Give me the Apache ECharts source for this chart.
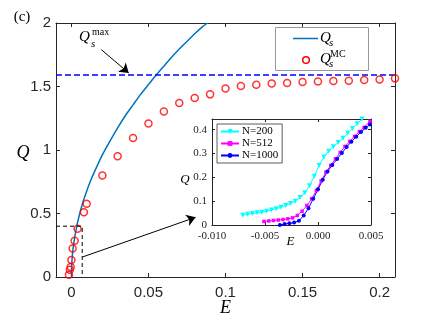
<!DOCTYPE html>
<html><head><meta charset="utf-8">
<script src="https://cdn.jsdelivr.net/npm/echarts@6/dist/echarts.min.js"></script>
<style>html,body{margin:0;padding:0;background:#fff}#c{width:436px;height:318px}</style>
</head><body><div id="c"></div>
<script>
// ---- main panel data ----
const qsE = [0, 0.0002, 0.0005, 0.001, 0.002, 0.0035, 0.005, 0.0075, 0.01, 0.0125, 0.015, 0.02, 0.025, 0.03, 0.035, 0.04, 0.045, 0.05, 0.055, 0.06, 0.065, 0.07, 0.075, 0.08, 0.085, 0.0884];
const qsQ = [0, 0.096, 0.152, 0.215, 0.303, 0.40, 0.48, 0.59, 0.68, 0.76, 0.83, 0.96, 1.07, 1.175, 1.27, 1.355, 1.44, 1.515, 1.59, 1.66, 1.73, 1.795, 1.855, 1.915, 1.97, 2.0];
const mcE = [-0.0016, -0.001, -0.0005, 0, 0.0008, 0.0021, 0.004, 0.0081, 0.0099, 0.0201, 0.03, 0.04, 0.05, 0.06, 0.07, 0.08, 0.09, 0.10, 0.11, 0.12, 0.13, 0.14, 0.15, 0.16, 0.17, 0.18, 0.19, 0.20, 0.21];
const mcQ = [0.018, 0.057, 0.079, 0.134, 0.225, 0.286, 0.380, 0.509, 0.577, 0.80, 0.950, 1.094, 1.209, 1.304, 1.370, 1.409, 1.438, 1.485, 1.504, 1.514, 1.524, 1.528, 1.535, 1.540, 1.543, 1.546, 1.551, 1.556, 1.564];
const qMax = 1.59;
const mainXTicks = [0, 0.05, 0.1, 0.15, 0.2];
const zoomBoxE = [-0.01, 0.007];
const zoomBoxQ = [0, 0.4];
const arrowToInset = [[0.0071, 0.157], [0.0806, 0.470]];
const arrowToMax = [[0.0194, 1.79], [0.0372, 1.607]];

// ---- inset data ----
const n200E = [-0.0071, -0.00665, -0.0062, -0.00575, -0.0053, -0.00485, -0.0044, -0.00395, -0.0035, -0.00305, -0.0026, -0.00215, -0.0017, -0.00125, -0.0008, -0.00035, 0.0001, 0.00055, 0.001, 0.00145, 0.0019, 0.00235, 0.0028, 0.00325, 0.0037, 0.00415];
const n200Q = [0.041, 0.045, 0.048, 0.051, 0.054, 0.058, 0.063, 0.068, 0.074, 0.082, 0.090, 0.100, 0.115, 0.135, 0.165, 0.205, 0.250, 0.285, 0.310, 0.328, 0.346, 0.364, 0.385, 0.405, 0.425, 0.445];
const n512E = [-0.0051, -0.00465, -0.0042, -0.00375, -0.0033, -0.00285, -0.0024, -0.00195, -0.0015, -0.00105, -0.0006, -0.00015, 0.0003, 0.00075, 0.0012, 0.00165, 0.0021, 0.00255, 0.003, 0.00345, 0.0039, 0.00435, 0.0049];
const n512Q = [0.015, 0.017, 0.019, 0.021, 0.023, 0.026, 0.030, 0.040, 0.058, 0.082, 0.110, 0.145, 0.185, 0.222, 0.250, 0.278, 0.305, 0.330, 0.351, 0.372, 0.392, 0.410, 0.435];
const n1000E = [-0.0036, -0.00315, -0.0027, -0.00225, -0.0018, -0.00135, -0.0009, -0.00045, 0.0, 0.00045, 0.0009, 0.00135, 0.0018, 0.00225, 0.0027, 0.00315, 0.0036, 0.00405, 0.0045, 0.0049];
const n1000Q = [0.0, 0.004, 0.007, 0.010, 0.018, 0.040, 0.070, 0.110, 0.150, 0.190, 0.225, 0.252, 0.277, 0.302, 0.327, 0.350, 0.370, 0.390, 0.408, 0.422];
const insetYTicks = [0, 0.1, 0.2, 0.3, 0.4];

const zip = (a, b) => a.map((v, i) => [v, b[i]]);
const AX = '#262626';
const SERIF = '"Liberation Serif","DejaVu Serif",serif';
const SANS = '"Liberation Sans",Arial,sans-serif';

const chart = echarts.init(document.getElementById('c'), null, {renderer: 'canvas'});

function axisCommon(extra) {
  return Object.assign({
    axisLine: {show: true, onZero: false, lineStyle: {color: AX, width: 1}},
    splitLine: {show: false}
  }, extra);
}

const option = {
  animation: false,
  backgroundColor: '#fff',
  grid: [
    {left: 56, top: 23, width: 339, height: 254},
    {left: 212, top: 119, width: 159, height: 106, show: true, backgroundColor: '#fff', borderWidth: 0, z: 5}
  ],
  xAxis: [
    axisCommon({type: 'value', gridIndex: 0, min: -0.01, max: 0.21, position: 'bottom',
      axisTick: {inside: true, length: 4, lineStyle: {color: AX}, customValues: mainXTicks},
      axisLabel: {customValues: mainXTicks, color: AX, fontFamily: SANS, fontSize: 15, margin: 8,
        formatter: v => String(+v.toFixed(2))}}),
    axisCommon({type: 'value', gridIndex: 0, min: -0.01, max: 0.21, position: 'top',
      axisTick: {inside: true, length: 4, lineStyle: {color: AX}, customValues: mainXTicks},
      axisLabel: {show: false}}),
    axisCommon({type: 'value', gridIndex: 1, min: -0.01, max: 0.005, interval: 0.005, position: 'bottom', z: 6,
      axisTick: {inside: true, length: 3, lineStyle: {color: AX}},
      axisLabel: {color: AX, fontFamily: SERIF, fontSize: 11, margin: 6, showMinLabel: true, showMaxLabel: true,
        formatter: v => Math.abs(v) < 1e-9 ? '0.000' : v.toFixed(3)}}),
    axisCommon({type: 'value', gridIndex: 1, min: -0.01, max: 0.005, interval: 0.005, position: 'top', z: 6,
      axisTick: {inside: true, length: 3, lineStyle: {color: AX}},
      axisLabel: {show: false}})
  ],
  yAxis: [
    axisCommon({type: 'value', gridIndex: 0, min: 0, max: 2, interval: 0.5, position: 'left',
      axisTick: {inside: true, length: 4, lineStyle: {color: AX}},
      axisLabel: {color: AX, fontFamily: SANS, fontSize: 15, margin: 5}}),
    axisCommon({type: 'value', gridIndex: 0, min: 0, max: 2, interval: 0.5, position: 'right',
      axisTick: {inside: true, length: 4, lineStyle: {color: AX}},
      axisLabel: {show: false}}),
    axisCommon({type: 'value', gridIndex: 1, min: 0, max: 0.445, position: 'left', z: 6,
      axisTick: {inside: true, length: 3, lineStyle: {color: AX}, customValues: insetYTicks},
      axisLabel: {customValues: insetYTicks, color: AX, fontFamily: SERIF, fontSize: 11, margin: 5,
        formatter: v => v === 0 ? '0' : v.toFixed(1)}}),
    axisCommon({type: 'value', gridIndex: 1, min: 0, max: 0.445, position: 'right', z: 6,
      axisTick: {inside: true, length: 3, lineStyle: {color: AX}, customValues: insetYTicks},
      axisLabel: {show: false}})
  ],
  legend: {
    data: ['N=200', 'N=512', 'N=1000'],
    orient: 'vertical', left: 217, top: 124, z: 10,
    itemWidth: 18, itemHeight: 6, itemGap: 1,
    padding: [2, 4, 2, 3],
    backgroundColor: '#fff', borderColor: '#333', borderWidth: 0.8,
    textStyle: {fontFamily: SERIF, fontSize: 11, color: '#000', lineHeight: 11, padding: [0, 0, 0, -2]}
  },
  series: [
    {name: 'Qs', type: 'line', xAxisIndex: 0, yAxisIndex: 0, data: zip(qsE, qsQ), showSymbol: false,
      smooth: 0.2, lineStyle: {color: '#0072BD', width: 1.5}, itemStyle: {color: '#0072BD'}},
    {name: 'Qmax', type: 'line', xAxisIndex: 0, yAxisIndex: 0, data: [[-0.01, qMax], [0.21, qMax]], showSymbol: false,
      lineStyle: {color: '#0000FF', width: 1.5, type: [6, 3]}},
    {name: 'zoombox', type: 'line', xAxisIndex: 0, yAxisIndex: 0, showSymbol: false, z: 6,
      data: [[zoomBoxE[0], zoomBoxQ[1]], [zoomBoxE[1], zoomBoxQ[1]], [zoomBoxE[1], zoomBoxQ[0]]],
      lineStyle: {color: '#000', width: 1, type: [4, 3]},
      markLine: {silent: true, symbol: ['none', 'arrow'], symbolSize: 9, label: {show: false},
        lineStyle: {color: '#000', width: 1, type: 'solid', opacity: 1},
        data: [
          [{coord: arrowToInset[0]}, {coord: arrowToInset[1]}],
          [{coord: arrowToMax[0]}, {coord: arrowToMax[1]}]
        ]}},
    {name: 'QsMC', type: 'scatter', xAxisIndex: 0, yAxisIndex: 0, data: zip(mcE, mcQ), clip: false,
      symbol: 'circle', symbolSize: 7, z: 4,
      itemStyle: {color: 'rgba(0,0,0,0)', borderColor: '#FF0000', borderWidth: 1.5}},
    {name: 'N=200', type: 'line', xAxisIndex: 2, yAxisIndex: 2, data: zip(n200E, n200Q), z: 7,
      symbol: 'triangle', symbolRotate: 180, symbolSize: 5, showAllSymbol: true,
      lineStyle: {color: '#00FFFF', width: 1}, itemStyle: {color: '#00FFFF'}},
    {name: 'N=512', type: 'line', xAxisIndex: 2, yAxisIndex: 2, data: zip(n512E, n512Q), z: 7,
      symbol: 'rect', symbolSize: 3.5, showAllSymbol: true,
      lineStyle: {color: '#FF00FF', width: 1}, itemStyle: {color: '#FF00FF'}},
    {name: 'N=1000', type: 'line', xAxisIndex: 2, yAxisIndex: 2, data: zip(n1000E, n1000Q), z: 7,
      symbol: 'circle', symbolSize: 4, showAllSymbol: true,
      lineStyle: {color: '#0000FF', width: 1}, itemStyle: {color: '#0000FF'}}
  ],
  graphic: [
    {type: 'text', x: 22, y: 17, style: {text: '(c)', font: '15px ' + SERIF, fill: '#000', align: 'center', verticalAlign: 'middle'}},
    {type: 'text', x: 23, y: 153, style: {text: 'Q', font: 'italic 18px ' + SERIF, fill: '#000', align: 'center', verticalAlign: 'middle'}},
    {type: 'text', x: 225.5, y: 308, style: {text: 'E', font: 'italic 18px ' + SERIF, fill: '#000', align: 'center', verticalAlign: 'middle'}},
    {type: 'text', x: 185, y: 180, z: 20, style: {text: 'Q', font: 'italic 13px ' + SERIF, fill: '#000', align: 'center', verticalAlign: 'middle'}},
    {type: 'text', x: 290.5, y: 242, z: 20, style: {text: 'E', font: 'italic 13px ' + SERIF, fill: '#000', align: 'center', verticalAlign: 'middle'}},
    // Q_s^max label
    {type: 'text', x: 79, y: 37, style: {text: 'Q', font: 'italic 15px ' + SERIF, fill: '#000', align: 'left', verticalAlign: 'middle'}},
    {type: 'text', x: 91, y: 44, style: {text: 's', font: 'italic 11px ' + SERIF, fill: '#000', align: 'left', verticalAlign: 'middle'}},
    {type: 'text', x: 92, y: 32, style: {text: 'max', font: '10px ' + SERIF, fill: '#000', align: 'left', verticalAlign: 'middle'}},
    // main legend
    {type: 'rect', z: 20, shape: {x: 275.5, y: 27.5, width: 93, height: 43}, style: {fill: '#fff', stroke: '#999', lineWidth: 1}},
    {type: 'line', z: 21, shape: {x1: 293, y1: 38.5, x2: 318, y2: 38.5}, style: {stroke: '#0072BD', lineWidth: 1.5}},
    {type: 'text', z: 21, x: 320, y: 38, style: {text: 'Q', font: 'italic 15px ' + SERIF, fill: '#000', align: 'left', verticalAlign: 'middle'}},
    {type: 'text', z: 21, x: 329, y: 43, style: {text: 's', font: 'italic 11px ' + SERIF, fill: '#000', align: 'left', verticalAlign: 'middle'}},
    {type: 'circle', z: 21, shape: {cx: 306, cy: 60, r: 3.3}, style: {fill: 'none', stroke: '#FF0000', lineWidth: 1.5}},
    {type: 'text', z: 21, x: 320, y: 59, style: {text: 'Q', font: 'italic 15px ' + SERIF, fill: '#000', align: 'left', verticalAlign: 'middle'}},
    {type: 'text', z: 21, x: 329, y: 64, style: {text: 's', font: 'italic 11px ' + SERIF, fill: '#000', align: 'left', verticalAlign: 'middle'}},
    {type: 'text', z: 21, x: 330, y: 54, style: {text: 'MC', font: '10px ' + SERIF, fill: '#000', align: 'left', verticalAlign: 'middle'}}
  ]
};
chart.setOption(option);
</script></body></html>
